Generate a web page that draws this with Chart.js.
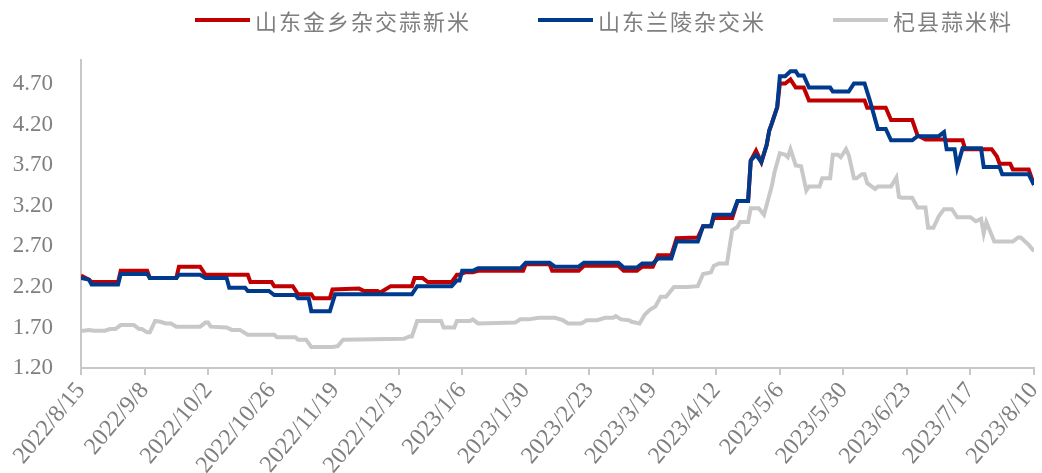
<!DOCTYPE html>
<html>
<head>
<meta charset="utf-8">
<script src="https://cdn.jsdelivr.net/npm/chart.js@4.4.0/dist/chart.umd.min.js"></script>
<style>
  body { margin: 0; background: #fff; }
  #wrap { position: relative; width: 1042px; height: 473px; }
  #legend { position: absolute; left: 195px; top: 4px; width: 847px; display: flex; align-items: center; white-space: nowrap;
    font-family: "Noto Sans CJK SC", sans-serif; font-size: 22px; letter-spacing: 2px; color: #7f7f7f; line-height: 32px; }
  .item { display: flex; align-items: center; margin-right: 67px; flex: none; }
  .swatch { width: 55px; height: 4px; margin-right: 5px; flex: none; }
</style>
</head>
<body>
<div id="wrap">
  <canvas id="chart" width="1042" height="473"></canvas>
  <div id="legend"></div>
</div>
<script>
// day offsets counted from 2022/8/15
const startDate = [2022, 8, 15];
const yTicks = [1.2, 1.7, 2.2, 2.7, 3.2, 3.7, 4.2, 4.7];
const seriesNames = ['山东金乡杂交蒜新米', '山东兰陵杂交米', '杞县蒜米料'];
const seriesColors = ['#c00000', '#003a8c', '#c8c8c8'];

const jinxiang = [[0,2.34],[3,2.29],[4,2.26],[14,2.26],[15,2.40],[25,2.40],[26,2.31],[36,2.31],[37,2.45],[45,2.45],
  [47,2.35],[63,2.35],[64,2.26],[72,2.26],[73,2.21],[80,2.21],[82,2.11],[87,2.11],[88,2.06],[94,2.06],
  [95,2.17],[105,2.18],[107,2.15],[112,2.15],[113,2.13],[114,2.15],[117,2.21],[125,2.21],[126,2.31],[129,2.31],
  [131,2.26],[140,2.26],[142,2.35],[143,2.35],[145,2.38],[148,2.38],[150,2.40],[167,2.40],[168,2.48],[177,2.48],
  [178,2.40],[188,2.40],[190,2.46],[203,2.46],[205,2.40],[210,2.40],[212,2.45],[216,2.45],[218,2.59],[223,2.59],
  [225,2.80],[233,2.81],[235,2.95],[238,2.95],[239,3.05],[246,3.05],[248,3.26],[252,3.26],[253,3.76],[255,3.88],
  [257,3.74],[259,3.95],[260,4.13],[261,4.22],[263,4.42],[264,4.71],[266,4.71],[268,4.76],[270,4.66],[273,4.66],
  [275,4.50],[296,4.50],[297,4.41],[304,4.41],[306,4.26],[314,4.26],[316,4.07],[319,4.02],[326,4.02],[327,4.01],
  [333,4.01],[334,3.90],[344,3.90],[346,3.81],[347,3.72],[351,3.72],[352,3.65],[358,3.65],[360,3.46]];

const lanling = [[0,2.31],[3,2.29],[4,2.23],[14,2.23],[15,2.36],[25,2.36],[26,2.31],[36,2.31],[37,2.35],[45,2.35],
  [47,2.31],[55,2.31],[56,2.19],[62,2.19],[63,2.15],[71,2.15],[73,2.10],[81,2.10],[82,2.06],[86,2.06],
  [87,1.90],[94,1.90],[96,2.11],[125,2.11],[127,2.21],[140,2.21],[142,2.28],[143,2.28],[144,2.40],[148,2.40],
  [150,2.43],[166,2.43],[168,2.50],[177,2.50],[179,2.45],[188,2.45],[190,2.50],[203,2.50],[205,2.44],[210,2.44],
  [212,2.49],[216,2.49],[218,2.55],[223,2.55],[225,2.76],[233,2.76],[235,2.95],[238,2.95],[239,3.09],[246,3.09],
  [248,3.26],[252,3.26],[253,3.76],[255,3.83],[257,3.74],[259,3.95],[260,4.13],[261,4.22],[263,4.42],[264,4.80],
  [266,4.80],[268,4.86],[270,4.86],[271,4.81],[273,4.81],[275,4.66],[283,4.66],[284,4.61],[290,4.61],[292,4.71],
  [296,4.71],[298,4.50],[301,4.15],[304,4.15],[306,4.01],[314,4.01],[316,4.06],[324,4.06],[326,4.11],[327,3.90],
  [330,3.90],[331,3.68],[333,3.91],[340,3.91],[341,3.68],[347,3.68],[348,3.59],[358,3.59],[360,3.46]];

const qixian = [[0,1.66],[1,1.66],[3,1.67],[5,1.66],[9,1.66],[11,1.68],[13,1.68],[15,1.73],[20,1.73],[22,1.68],
  [23,1.68],[25,1.64],[26,1.64],[28,1.78],[30,1.77],[32,1.75],[34,1.75],[36,1.71],[45,1.71],[47,1.76],
  [48,1.76],[49,1.71],[55,1.70],[57,1.67],[60,1.67],[63,1.61],[73,1.61],[74,1.58],[81,1.58],[82,1.55],
  [85,1.55],[87,1.46],[95,1.46],[97,1.47],[99,1.55],[122,1.56],[124,1.59],[125,1.59],[127,1.78],[136,1.78],
  [137,1.70],[141,1.70],[142,1.78],[147,1.78],[148,1.80],[150,1.75],[164,1.76],[166,1.80],[169,1.80],[173,1.82],
  [179,1.82],[182,1.79],[184,1.75],[189,1.75],[191,1.79],[195,1.79],[198,1.82],[201,1.82],[202,1.84],[204,1.80],
  [207,1.79],[208,1.77],[211,1.75],[213,1.86],[215,1.92],[217,1.96],[219,2.08],[221,2.08],[224,2.20],[229,2.20],
  [233,2.21],[235,2.36],[238,2.38],[239,2.46],[241,2.49],[244,2.49],[246,2.90],[248,2.94],[249,3.00],[252,3.00],
  [253,3.17],[256,3.17],[258,3.09],[261,3.45],[262,3.62],[264,3.85],[266,3.83],[267,3.80],[268,3.90],[270,3.70],
  [272,3.69],[274,3.39],[275,3.44],[279,3.44],[280,3.54],[283,3.54],[284,3.83],[286,3.83],[287,3.80],[289,3.90],
  [290,3.83],[292,3.54],[293,3.54],[295,3.59],[296,3.59],[297,3.48],[300,3.41],[301,3.44],[306,3.44],[308,3.55],
  [309,3.31],[310,3.30],[314,3.30],[316,3.18],[319,3.18],[320,2.93],[322,2.93],[324,3.07],[326,3.16],[329,3.16],
  [331,3.06],[336,3.06],[338,3.01],[340,3.04],[341,2.86],[342,3.00],[345,2.76],[352,2.76],[354,2.81],[355,2.81],
  [358,2.72],[360,2.64]];

function dayLabel(offset) {
  const d = new Date(startDate[0], startDate[1] - 1, startDate[2] + offset);
  return d.getFullYear() + '/' + (d.getMonth() + 1) + '/' + d.getDate();
}

const toPoints = arr => arr.map(p => ({ x: p[0], y: p[1] }));
const allSeries = [jinxiang, lanling, qixian];

// html legend
const legendEl = document.getElementById('legend');
seriesNames.forEach((name, i) => {
  const item = document.createElement('div');
  item.className = 'item';
  item.innerHTML = '<span class="swatch" style="background:' + seriesColors[i] + '"></span><span>' + name + '</span>';
  legendEl.appendChild(item);
});

const tickFont = { family: '"Liberation Serif", "Times New Roman", serif', size: 23 };
const axisGrey = '#c8c8c8';

new Chart(document.getElementById('chart'), {
  type: 'line',
  data: {
    datasets: allSeries.map((s, i) => ({
      label: seriesNames[i],
      data: toPoints(s),
      borderColor: seriesColors[i],
      backgroundColor: seriesColors[i],
      borderWidth: 4,
      pointRadius: 0,
      tension: 0,
      order: i === 1 ? 1 : (i === 0 ? 2 : 3)
    }))
  },
  options: {
    responsive: false,
    animation: false,
    devicePixelRatio: 1,
    layout: { padding: { top: 60, left: 12, right: 8, bottom: 0 } },
    plugins: { legend: { display: false }, tooltip: { enabled: false } },
    scales: {
      x: {
        type: 'linear',
        min: 0,
        max: 360,
        afterBuildTicks: s => { s.ticks = Array.from({ length: 16 }, (_, k) => ({ value: k * 24 })); },
        afterFit: s => { s.height = 105; s.paddingLeft = 0; s.paddingRight = 0; },
        ticks: {
          autoSkip: false,
          maxRotation: 50,
          minRotation: 50,
          padding: 2,
          color: '#7f7f7f',
          font: { family: tickFont.family, size: 24 },
          callback: v => dayLabel(v)
        },
        grid: { drawOnChartArea: false, drawTicks: true, tickLength: 7, color: axisGrey, lineWidth: 2 },
        border: { display: true, color: axisGrey, width: 2 }
      },
      y: {
        min: 1.2,
        max: 5.0,
        afterBuildTicks: s => { s.ticks = yTicks.map(v => ({ value: v })); },
        afterFit: s => { s.width = 69; },
        ticks: {
          padding: 28,
          color: '#7f7f7f',
          font: tickFont,
          callback: v => v.toFixed(2)
        },
        grid: { display: false, drawTicks: false },
        border: { display: true, color: axisGrey, width: 2 }
      }
    }
  }
});
</script>
</body>
</html>
